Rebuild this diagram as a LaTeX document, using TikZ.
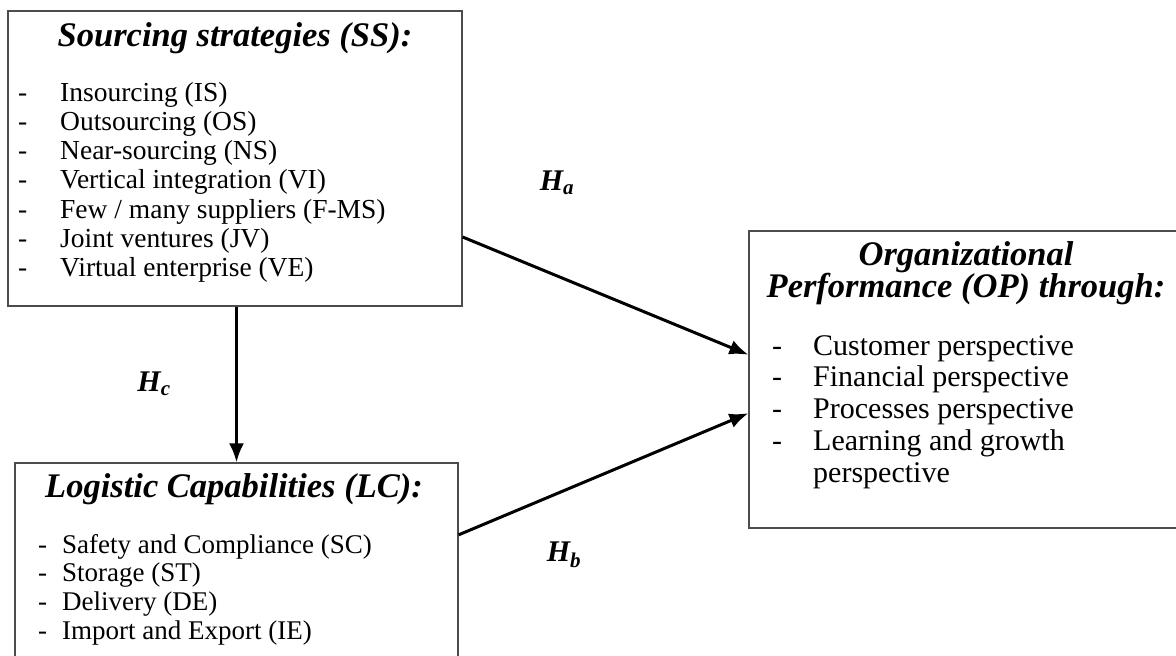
\documentclass[tikz,border=0pt]{standalone}
\usepackage{fontspec}
\setmainfont{Liberation Serif}
\usetikzlibrary{arrows.meta,calc}

\newcommand{\ssfont}{\fontsize{27.5}{30}\selectfont}
\newcommand{\lcfont}{\fontsize{27}{30}\selectfont}
\newcommand{\opfont}{\fontsize{30}{32}\selectfont}
\newcommand{\headfont}{\fontsize{34.5}{36}\selectfont\bfseries\itshape}
\newcommand{\hypfont}{\fontsize{30}{32}\selectfont\bfseries\itshape}

\tikzset{
    box/.style={draw=black!70, line width=1.2pt, inner sep=0pt},
    head/.style={anchor=base, inner sep=0pt, font=\headfont},
    entry/.style={anchor=base west, inner sep=0pt},
    link/.style={line width=3pt, -{Latex[length=19pt,width=15pt]}},
    hyp/.style={inner sep=0pt, font=\hypfont}
}

\begin{document}
\begin{tikzpicture}[x=1pt,y=-1pt]
    \useasboundingbox (0,0) rectangle (1176,656);

    % Boxes
    \node[box, minimum width=454pt, minimum height=295pt] (ss) at (235,158.5) {};
    \node[box, minimum width=443pt, minimum height=207pt] (lc) at (236.5,566.5) {};
    \node[box, minimum width=431pt, minimum height=297pt] (op) at (964.5,379.5) {};

    % Sourcing strategies
    \node[head] (ss-head) at (235,46) {Sourcing strategies (SS):};
    \foreach \txt [count=\i] in {Insourcing (IS), Outsourcing (OS), Near-sourcing (NS),
        Vertical integration (VI), Few / many suppliers (F-MS), Joint ventures (JV),
        Virtual enterprise (VE)} {
        \node[entry, font=\ssfont] (ss-dash-\i) at (18,{101+29.3*(\i-1)}) {-};
        \node[entry, font=\ssfont] (ss-item-\i) at (60,{101+29.3*(\i-1)}) {\txt};
    }

    % Logistic capabilities
    \node[head] (lc-head) at (234,497) {Logistic Capabilities (LC):};
    \foreach \txt [count=\i] in {Safety and Compliance (SC), Storage (ST),
        Delivery (DE), Import and Export (IE)} {
        \node[entry, font=\lcfont] (lc-dash-\i) at (38,{553+28.7*(\i-1)}) {-};
        \node[entry, font=\lcfont] (lc-item-\i) at (62,{553+28.7*(\i-1)}) {\txt};
    }

    % Organizational performance
    \node[head] (op-head-1) at (966,265) {Organizational};
    \node[head] (op-head-2) at (966,297) {Performance (OP) through:};
    \foreach \txt [count=\i] in {Customer perspective, Financial perspective,
        Processes perspective, Learning and growth} {
        \node[entry, font=\opfont] (op-dash-\i) at (772,{355+31.7*(\i-1)}) {-};
        \node[entry, font=\opfont] (op-item-\i) at (813,{355+31.7*(\i-1)}) {\txt};
    }
    \node[entry, font=\opfont] (op-item-5) at (813,482) {perspective};

    % Hypotheses
    \draw[link] ($(ss.north east)!0.765!(ss.south east)$) -- ($(op.north west)!0.417!(op.south west)$);
    \draw[link] ($(lc.north east)!0.348!(lc.south east)$) -- ($(op.north west)!0.613!(op.south west)$);
    \draw[link] (lc.north |- ss.south) -- (lc.north);

    \node[hyp] (ha) at (557,183) {H\textsubscript{a}};
    \node[hyp] (hb) at (564,555) {H\textsubscript{b}};
    \node[hyp] (hc) at (154,384) {H\textsubscript{c}};

\end{tikzpicture}
\end{document}
